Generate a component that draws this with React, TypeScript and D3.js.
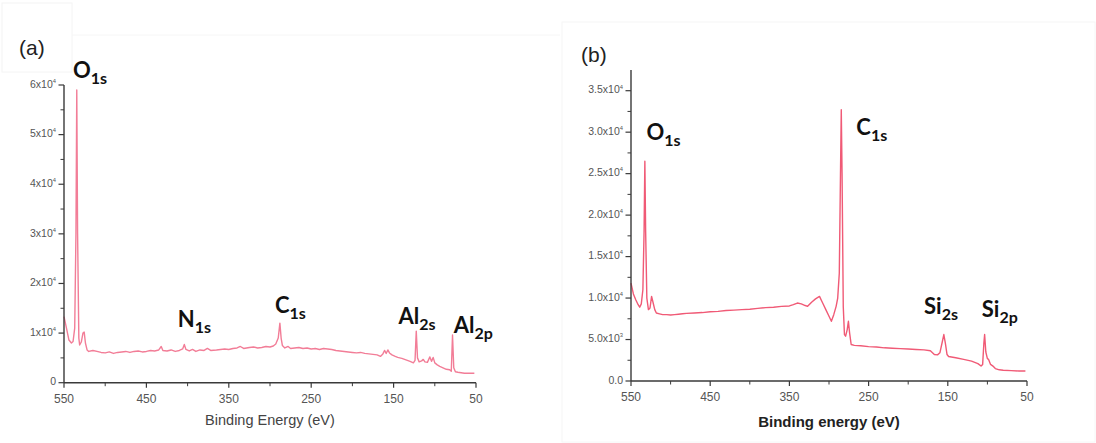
import React from 'react';
import * as d3 from 'd3';

// Panel (a): survey spectrum, Binding Energy (eV) vs counts
const energyA = [550, 547, 544, 541, 539, 537, 535.5, 534.5, 533.5, 532, 531, 529, 527, 525.5, 524, 522, 520, 515, 510, 505, 500, 495, 490, 485, 480, 475, 470, 465, 460, 455, 450, 445, 440, 435, 432, 430, 425, 420, 415, 410, 406, 404, 402, 398, 394, 390, 385, 380, 376, 372, 365, 360, 355, 350, 345, 340, 336, 332, 325, 320, 315, 310, 305, 300, 296, 293, 290, 288, 286.5, 285, 282, 278, 275, 270, 265, 260, 255, 250, 245, 240, 235, 230, 225, 220, 215, 210, 205, 200, 195, 190, 185, 180, 175, 170, 166, 163, 161, 159, 157, 155, 152, 148, 145, 140, 135, 130, 126, 124, 122.5, 121, 119, 116, 114, 112, 109, 106, 104, 102, 100, 97, 94, 90, 86, 82, 80, 78.5, 77, 75, 72, 68, 64, 60, 56, 52];
const countsA = [13300, 11000, 8600, 8000, 8300, 11000, 30000, 59000, 30000, 9000, 7600, 8200, 10000, 10200, 8000, 6600, 6300, 6500, 6300, 6100, 6000, 6200, 5900, 6100, 6200, 6300, 6100, 6300, 6400, 6200, 6300, 6500, 6400, 6600, 7300, 6500, 6400, 6600, 6300, 6500, 6800, 7700, 6700, 6400, 6700, 6300, 6600, 6500, 6900, 6500, 6600, 6700, 6800, 6700, 6900, 7000, 7300, 6900, 7100, 7200, 7000, 7100, 7300, 7200, 7400, 7800, 9000, 12000, 9000, 7500, 7000, 7300, 6900, 7000, 7100, 6900, 7000, 6800, 6900, 6700, 6900, 6800, 6700, 6500, 6400, 6300, 6200, 6100, 6000, 6100, 5900, 5800, 5700, 5600, 5300, 5800, 6500, 5900, 6600, 6000, 5600, 5300, 5100, 4900, 4600, 4300, 4000, 4500, 10400, 5000, 4200, 4400, 4700, 4200, 4100, 5200, 4300, 5100, 4000, 3600, 3300, 3000, 2700, 2600, 2300, 9600, 3000, 2200, 2100, 2000, 1900, 1900, 1900, 1900];

// Panel (b)
const energyB = [550, 547, 544, 541, 539, 537, 535, 533.5, 532.5, 531.5, 530, 528, 526, 524, 522, 520, 518, 514, 510, 505, 500, 495, 490, 485, 480, 470, 460, 450, 440, 430, 420, 410, 400, 390, 380, 370, 360, 350, 345, 340, 335, 330, 327, 322, 317, 312, 308, 304, 300, 297, 294, 291, 289, 287, 285.5, 284.5, 283.5, 282, 280.5, 279, 277, 275.5, 274, 272, 268, 260, 250, 240, 230, 220, 210, 200, 190, 180, 172, 167, 163, 160, 157, 155, 153, 151, 149, 140, 130, 120, 112, 108, 106, 104.5, 103.5, 102, 100, 98.5, 96, 93, 90, 85, 80, 70, 60, 52];
const countsB = [11800, 10500, 9800, 9200, 8900, 9300, 11000, 18000, 26500, 18000, 10000, 8600, 8800, 10200, 9400, 8600, 8200, 8100, 8000, 8000, 7950, 8000, 8050, 8100, 8150, 8200, 8250, 8350, 8400, 8500, 8550, 8600, 8650, 8750, 8850, 8900, 9000, 9050, 9200, 9400, 9300, 9100, 9000, 9500, 9900, 10200, 9400, 8600, 7800, 7200, 8000, 9000, 10000, 13000, 25000, 32700, 25000, 9000, 5600, 5400, 6200, 7200, 5800, 4400, 4300, 4250, 4150, 4100, 4000, 3950, 3900, 3850, 3800, 3750, 3650, 3200, 3150, 3400, 4700, 5600, 4500, 3200, 2950, 2800, 2600, 2400, 2100, 1800, 2000, 4500, 5600, 3500, 2700, 2600, 2000, 1800, 1500, 1350, 1300, 1250, 1200, 1200];

const xMajor = [550, 450, 350, 250, 150, 50];
const xMinor = [500, 400, 300, 200, 100];
const yMajorA = [0, 10000, 20000, 30000, 40000, 50000, 60000];
const yMajorB = [0, 5000, 10000, 15000, 20000, 25000, 30000, 35000];

// peak labels: [main, subscript, energy anchor, count anchor]
const peaksA: [string, string, number, number][] = [
  ['O', '1s', 539, 61500],
  ['N', '1s', 412, 11300],
  ['C', '1s', 294, 14000],
  ['Al', '2s', 144, 11800],
  ['Al', '2p', 77, 10000],
];
const peaksB: [string, string, number, number][] = [
  ['O', '1s', 530.5, 29000],
  ['C', '1s', 265.5, 29600],
  ['Si', '2s', 180, 8100],
  ['Si', '2p', 107, 7700],
];

const axisColor = '#3a3a3a';
const tickFont = 'Liberation Sans, Arial, sans-serif';
const peakFont = 'Lato, "Open Sans", sans-serif';

function supLabel(base: string, exp: string | null, x: number, y: number, size: number) {
  return (
    <text x={x} y={y} textAnchor="end" fontSize={size} fill="#555" fontFamily={tickFont} dominantBaseline="middle">
      {base}
      {exp && (
        <tspan fontSize={size * 0.55} dy={-size * 0.4}>{exp}</tspan>
      )}
    </text>
  );
}

type PanelProps = {
  energy: number[];
  counts: number[];
  x0: number;
  x1: number;
  yBottom: number;
  yTop: number;
  yMax: number;
  axisTop: number;
  yMajor: number[];
  yStep: number;
  fmt: (v: number) => [string, string | null];
  peaks: [string, string, number, number][];
  color: string;
  title: string;
  titleBold: boolean;
  titleSize: number;
  titleY: number;
};

const Panel = (p: PanelProps) => {
  const x = d3.scaleLinear().domain([550, 50]).range([p.x0, p.x1]);
  const y = d3.scaleLinear().domain([0, p.yMax]).range([p.yBottom, p.yTop]);
  const line = d3.line<number>()
    .x((_, i) => x(p.energy[i]))
    .y(d => y(d));
  const yMinor = p.yMajor.map(v => v + p.yStep / 2).filter(v => y(v) >= p.axisTop);

  return (
    <g>
      {/* spectrum */}
      <path d={line(p.counts) || ''} fill="none" stroke={p.color} strokeWidth={1.4} strokeLinejoin="round" />

      {/* y axis */}
      <line x1={p.x0} x2={p.x0} y1={p.axisTop} y2={p.yBottom} stroke={axisColor} strokeWidth={1.4} />
      {p.yMajor.map(v => (
        <g key={'ym' + v}>
          <line x1={p.x0 - 5.5} x2={p.x0} y1={y(v)} y2={y(v)} stroke={axisColor} strokeWidth={1.2} />
          {supLabel(p.fmt(v)[0], p.fmt(v)[1], p.x0 - 8, y(v), 10.5)}
        </g>
      ))}
      {yMinor.map(v => (
        <line key={'yn' + v} x1={p.x0 - 3.5} x2={p.x0} y1={y(v)} y2={y(v)} stroke={axisColor} strokeWidth={1} />
      ))}

      {/* x axis */}
      <line x1={p.x0} x2={p.x1} y1={p.yBottom} y2={p.yBottom} stroke={axisColor} strokeWidth={1.4} />
      {xMajor.map(v => (
        <g key={'xm' + v}>
          <line x1={x(v)} x2={x(v)} y1={p.yBottom} y2={p.yBottom + 5} stroke={axisColor} strokeWidth={1.2} />
          <text x={x(v)} y={p.yBottom + 20} textAnchor="middle" fontSize={12} fill="#555" fontFamily={tickFont}>{v}</text>
        </g>
      ))}
      {xMinor.map(v => (
        <line key={'xn' + v} x1={x(v)} x2={x(v)} y1={p.yBottom} y2={p.yBottom + 3.5} stroke={axisColor} strokeWidth={1} />
      ))}
      <text x={(p.x0 + p.x1) / 2} y={p.titleY} textAnchor="middle" fontSize={p.titleSize}
        fontWeight={p.titleBold ? 'bold' : 'normal'} fill={p.titleBold ? '#222' : '#444'} fontFamily={tickFont}>
        {p.title}
      </text>

      {/* peak labels */}
      {p.peaks.map(([m, s, e, c]) => (
        <text key={m + s} x={x(e)} y={y(c)} fontSize={22} fontWeight="bold" fill="#111" fontFamily={peakFont}>
          {m}
          <tspan fontSize={16} dy={6}>{s}</tspan>
        </text>
      ))}
    </g>
  );
};

const fmtA = (v: number): [string, string | null] => (v === 0 ? ['0', null] : [`${v / 10000}x10`, '4']);
const fmtB = (v: number): [string, string | null] => {
  if (v === 0) return ['0.0', null];
  if (v < 10000) return [`${(v / 1000).toFixed(1)}x10`, '3'];
  return [`${(v / 10000).toFixed(1)}x10`, '4'];
};

export default function App() {
  return (
    <div style={{ position: 'fixed', left: 0, top: 0 }}>
      <svg width={1096} height={443} style={{ display: 'block', background: '#fff' }}>
        {/* faint frame remnants */}
        <rect x={2} y={3} width={70} height={69} fill="none" stroke="#f4f4f4" strokeWidth={1} />
        <line x1={72} x2={560} y1={35} y2={35} stroke="#f6f6f6" />
        <rect x={562} y={22} width={533} height={420} fill="none" stroke="#f6f6f6" />

        <text x={19} y={55} fontSize={21} fill="#222" fontFamily={tickFont}>(a)</text>
        <text x={581} y={62} fontSize={21} fill="#222" fontFamily={tickFont}>(b)</text>

        <Panel energy={energyA} counts={countsA} x0={64} x1={476} yBottom={382.7} yTop={85}
          yMax={60000} axisTop={85} yMajor={yMajorA} yStep={10000} fmt={fmtA} peaks={peaksA}
          color="#f27d97" title="Binding Energy (eV)" titleBold={false} titleSize={14.5} titleY={425} />
        <Panel energy={energyB} counts={countsB} x0={631} x1={1027} yBottom={381} yTop={90.7}
          yMax={35000} axisTop={70} yMajor={yMajorB} yStep={5000} fmt={fmtB} peaks={peaksB}
          color="#f05a76" title="Binding energy (eV)" titleBold={true} titleSize={15} titleY={427} />
      </svg>
    </div>
  );
}
